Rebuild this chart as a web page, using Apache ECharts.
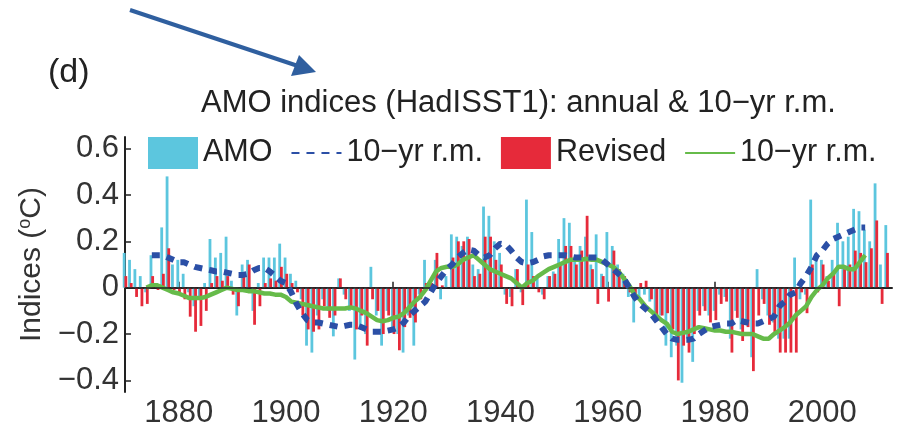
<!DOCTYPE html>
<html>
<head>
<meta charset="utf-8">
<script src="https://cdn.jsdelivr.net/npm/echarts@6/dist/echarts.min.js"></script>
<style>
html,body{margin:0;padding:0;background:#fff;}
#c{width:906px;height:430px;}
</style>
</head>
<body>
<div id="c"></div>
<script>
// ---- data ----
const startYear = 1870;
const amo = [
  0.15, 0.12, 0.08, 0.05, -0.02, 0.14, 0.02, 0.26, 0.48, 0.10,
  0.12, 0.06, -0.02, -0.08, -0.05, 0.02, 0.21, 0.13, 0.15, 0.22,
  0.03, -0.12, 0.10, 0.12, -0.10, 0.02, 0.13, 0.13, 0.13, 0.19,
  0.13, 0.06, 0.03, -0.05, -0.25, -0.28, -0.12, -0.05, -0.10, -0.21,
  0.04, -0.03, -0.10, -0.31, -0.18, -0.20, 0.09, -0.12, -0.25, -0.10,
  -0.18, -0.20, -0.28, -0.12, -0.25, -0.03, 0.12, 0.03, 0.12, -0.05,
  0.05, 0.23, 0.22, 0.18, 0.22, 0.10, 0.08, 0.35, 0.31, 0.20,
  0.15, -0.03, -0.04, 0.08, -0.02, 0.38, 0.24, 0.05, -0.03, 0.05,
  0.07, 0.21, 0.30, 0.28, 0.12, 0.18, 0.22, 0.10, 0.23, 0.06,
  0.24, 0.18, 0.10, 0.06, -0.04, -0.15, -0.04, -0.03, -0.06, -0.12,
  -0.12, -0.25, -0.30, -0.25, -0.41, -0.22, -0.32, -0.10, -0.08, -0.12,
  -0.10, -0.03, -0.04, -0.22, -0.10, -0.18, -0.14, -0.30, 0.08, -0.05,
  -0.12, -0.15, -0.22, -0.22, -0.22, 0.13, -0.05, -0.03, 0.38, 0.12,
  0.12, 0.05, 0.12, 0.28, 0.20, 0.22, 0.34, 0.33, 0.25, 0.20,
  0.45, 0.10, 0.27
];
const revised = [
  0.05, 0.02, -0.04, -0.08, -0.07, 0.05, -0.01, 0.06, 0.17, -0.01,
  -0.02, -0.05, -0.125, -0.19, -0.165, -0.10, 0.02, 0.05, 0.03, 0.05,
  -0.03, -0.08, 0.05, 0.10, -0.16, -0.08, 0.02, 0.04, 0.03, 0.09,
  0.06, 0.02, -0.02, -0.12, -0.18, -0.19, -0.18, -0.08, -0.13, -0.12,
  0.04, -0.05, -0.08, -0.18, -0.12, -0.25, -0.05, -0.10, -0.20, -0.12,
  -0.20, -0.27, -0.17, -0.13, -0.15, -0.05, 0.02, 0.02, 0.15, 0.01,
  0.00, 0.13, 0.20, 0.20, 0.21, 0.05, 0.06, 0.22, 0.22, 0.12,
  0.10, -0.07, -0.08, 0.08, -0.075, 0.10, 0.05, -0.02, -0.05, 0.05,
  0.06, 0.10, 0.18, 0.18, 0.10, 0.16, 0.31, 0.08, -0.07, 0.05,
  -0.06, 0.16, 0.08, 0.05, -0.02, -0.05, 0.02, 0.03, -0.05, -0.12,
  -0.12, -0.11, -0.18, -0.40, -0.25, -0.28, -0.20, -0.12, -0.10, -0.15,
  -0.14, -0.07, -0.06, -0.28, -0.13, -0.23, -0.17, -0.36, -0.12, -0.07,
  -0.16, -0.20, -0.28, -0.28, -0.28, -0.28, -0.02, -0.11, 0.10, -0.02,
  0.10, 0.03, 0.06, -0.08, 0.08, 0.10, 0.16, 0.15, 0.11, 0.17,
  0.29, -0.07, 0.15
];
const amoRmStart = 1875;
const amoRm = [
  0.14, 0.14, 0.14, 0.13, 0.12,
  0.11, 0.11, 0.10, 0.09, 0.085, 0.08, 0.075, 0.07, 0.07, 0.065,
  0.06, 0.055, 0.055, 0.06, 0.075, 0.085, 0.085, 0.07, 0.05, 0.03,
  0.02, -0.02, -0.07, -0.11, -0.14, -0.15, -0.15, -0.155, -0.16, -0.165,
  -0.17, -0.165, -0.16, -0.16, -0.17, -0.18, -0.19, -0.19, -0.19, -0.185,
  -0.18, -0.17, -0.15, -0.12, -0.10, -0.08, -0.06, -0.02, 0.02, 0.05,
  0.08, 0.10, 0.13, 0.15, 0.165, 0.16, 0.14, 0.13, 0.14, 0.17,
  0.19, 0.185, 0.16, 0.13, 0.11, 0.105, 0.11, 0.12, 0.135, 0.14,
  0.14, 0.14, 0.14, 0.135, 0.13, 0.13, 0.13, 0.13, 0.13, 0.12,
  0.10, 0.08, 0.06, 0.04, 0.0, -0.04, -0.07, -0.09, -0.11, -0.14,
  -0.17, -0.20, -0.22, -0.225, -0.225, -0.225, -0.22, -0.20, -0.185, -0.17,
  -0.165, -0.16, -0.155, -0.155, -0.14, -0.145, -0.15, -0.155, -0.155, -0.145,
  -0.135, -0.125, -0.08, -0.06, -0.03, -0.02, 0.02, 0.05, 0.09, 0.14,
  0.16, 0.19, 0.21, 0.22, 0.23, 0.24, 0.25, 0.26, 0.26
];
const revRmStart = 1874;
const revRm = [
  0.0, 0.01, 0.01, 0.0, -0.01, -0.02,
  -0.025, -0.035, -0.045, -0.045, -0.045, -0.04, -0.03, -0.02, -0.01, 0.0,
  -0.005, -0.01, -0.01, -0.015, -0.015, -0.02, -0.025, -0.025, -0.03, -0.03,
  -0.04, -0.06, -0.065, -0.07, -0.075, -0.08, -0.085, -0.09, -0.09, -0.09,
  -0.09, -0.09, -0.085, -0.09, -0.10, -0.11, -0.125, -0.14, -0.145, -0.14,
  -0.13, -0.125, -0.11, -0.085, -0.06, -0.04, -0.01, 0.03, 0.07, 0.085,
  0.09, 0.09, 0.10, 0.12, 0.13, 0.14, 0.12, 0.10, 0.08, 0.07,
  0.06, 0.05, 0.04, 0.02, 0.0, 0.02, 0.03, 0.05, 0.065, 0.08,
  0.09, 0.10, 0.11, 0.12, 0.12, 0.12, 0.125, 0.12, 0.12, 0.11,
  0.10, 0.09, 0.07, 0.04, 0.01, -0.03, -0.05, -0.08, -0.10, -0.12,
  -0.14, -0.155, -0.19, -0.20, -0.195, -0.19, -0.18, -0.17, -0.175, -0.18,
  -0.185, -0.185, -0.19, -0.19, -0.195, -0.20, -0.20, -0.20, -0.21, -0.22,
  -0.22, -0.20, -0.185, -0.17, -0.15, -0.12, -0.10, -0.08, -0.04, -0.01,
  0.01, 0.04, 0.06, 0.09, 0.09, 0.08, 0.08, 0.11, 0.14
];
const xTickYears = [1880, 1900, 1920, 1940, 1960, 1980, 2000];
const yTicks = [-0.4, -0.2, 0, 0.2, 0.4, 0.6];
const titleText = 'AMO indices (HadISST1): annual & 10\u2212yr r.m.';
const seriesNames = ['AMO', '10\u2212yr r.m.', 'Revised', '10\u2212yr r.m. '];

// ---- build ----
const pair = (arr, s) => arr.map((v, i) => [s + i, v]);
const FONT = "'Liberation Sans', Arial, sans-serif";
const fmtY = v => v === 0 ? '0' : (v < 0 ? '\u2212' + Math.abs(v).toFixed(1) : v.toFixed(1));

const chart = echarts.init(document.getElementById('c'), null, {renderer: 'canvas'});
chart.setOption({
  animation: false,
  backgroundColor: '#ffffff',
  title: {
    text: titleText, left: 196, top: 83,
    textStyle: {fontFamily: FONT, fontSize: 31, fontWeight: 'normal', color: '#222'}
  },
  legend: {
    left: 143, top: 132, itemWidth: 50, itemHeight: 32, itemGap: 18,
    formatter: n => n.trim(),
    textStyle: {fontFamily: FONT, fontSize: 30.5, color: '#222'},
    data: [
      {name: seriesNames[0], icon: 'rect'},
      {name: seriesNames[1], itemStyle: {opacity: 0}},
      {name: seriesNames[2], icon: 'rect'},
      {name: seriesNames[3], itemStyle: {opacity: 0}}
    ]
  },
  grid: {left: 125, right: 14, top: 137, bottom: 38},
  xAxis: {
    type: 'value', min: 1870, max: 2013,
    axisLine: {lineStyle: {color: '#222', width: 2}},
    axisTick: {inside: true, length: 6, customValues: xTickYears, lineStyle: {color: '#222', width: 1.5}},
    axisLabel: {customValues: xTickYears, formatter: v => String(v), fontFamily: FONT, fontSize: 31, color: '#333', margin: 6},
    splitLine: {show: false}
  },
  yAxis: {
    type: 'value', min: -0.45, max: 0.65,
    name: 'Indices ({sup|o}C)', nameLocation: 'middle', nameGap: 72,
    nameTextStyle: {fontFamily: FONT, fontSize: 30, color: '#333',
      rich: {sup: {fontFamily: FONT, fontSize: 18, verticalAlign: 'top', padding: [0, 0, 14, 0], color: '#333'}}},
    axisLine: {show: true, lineStyle: {color: '#222', width: 2}},
    axisTick: {show: true, inside: true, length: 6, customValues: yTicks, lineStyle: {color: '#222', width: 1.5}},
    axisLabel: {customValues: yTicks, formatter: fmtY, fontFamily: FONT, fontSize: 31, color: '#333', margin: 6},
    splitLine: {show: false}
  },
  graphic: [
    {type: 'text', left: 48, top: 56, style: {text: '(d)', fontFamily: FONT, fontSize: 34, fill: '#222'}},
    {type: 'line', shape: {x1: 130, y1: 10, x2: 298, y2: 66}, style: {stroke: '#2f5f9f', lineWidth: 4}},
    {type: 'polygon', shape: {points: [[316, 72], [291, 76], [299, 55]]}, style: {fill: '#2f5f9f'}}
  ],
  series: [
    {
      name: seriesNames[0], type: 'bar', data: pair(amo, startYear),
      barWidth: 2.8, barGap: '-40%', itemStyle: {color: '#5cc6de'}, z: 2
    },
    {
      name: seriesNames[2], type: 'bar', data: pair(revised, startYear),
      barWidth: 2.8, itemStyle: {color: '#e62a3a'}, z: 3,
      markLine: {silent: true, symbol: 'none', label: {show: false},
        lineStyle: {color: '#222', width: 1.5, type: 'solid'}, data: [{yAxis: 0}]}
    },
    {
      name: seriesNames[3], type: 'line', data: pair(revRm, revRmStart),
      symbol: 'none', lineStyle: {color: '#66bb4a', width: 4.5}, itemStyle: {color: '#66bb4a'}, z: 4
    },
    {
      name: seriesNames[1], type: 'line', data: pair(amoRm, amoRmStart),
      symbol: 'none', lineStyle: {color: '#2b4fa6', width: 6, type: [8, 7]}, itemStyle: {color: '#2b4fa6'}, z: 5
    }
  ]
});
</script>
</body>
</html>
